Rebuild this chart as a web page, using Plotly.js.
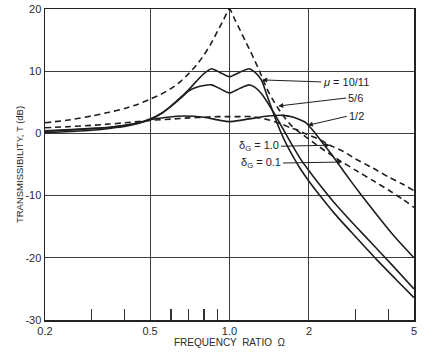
<!DOCTYPE html>
<html>
<head>
<meta charset="utf-8">
<script src="https://cdn.plot.ly/plotly-3.0.1.min.js"></script>
<style>html,body{margin:0;padding:0;background:#fff}#chart{width:435px;height:352px}</style>
</head>
<body>
<div id="chart"></div>
<script>
// Frequency ratio (Omega) and transmissibility (dB)
const omegaD01 = [0.2,0.25,0.3,0.35,0.4,0.45,0.5,0.55,0.6,0.65,0.7,0.75,0.8,0.85,0.9,0.95,1.0,1.05,1.1,1.15,1.2,1.25,1.3,1.35,1.4,1.46,1.53,1.62,1.72,1.8,1.95,2.1,2.3,2.6,3.0,3.5,4.0,4.5,5.0];
const dbD01    = [1.7,2.2,2.8,3.4,4.0,4.7,5.5,6.3,7.2,8.3,9.6,11.0,12.6,14.4,16.4,18.3,20.0,18.2,16.5,14.8,13.2,11.6,10.0,8.3,6.8,5.4,4.0,2.5,1.2,0.5,-0.6,-1.6,-2.8,-4.3,-5.9,-7.6,-9.1,-10.5,-11.9];

const omegaD10 = [0.2,0.25,0.3,0.35,0.4,0.45,0.5,0.6,0.7,0.8,0.9,1.0,1.1,1.2,1.3,1.4,1.5,1.6,1.7,1.8,1.95,2.2,2.4,2.7,3.0,3.5,4.0,4.5,5.0];
const dbD10    = [0.9,1.1,1.3,1.5,1.7,1.9,2.1,2.3,2.5,2.6,2.7,2.7,2.7,2.7,2.5,2.2,1.8,1.4,0.9,0.6,-0.1,-1.0,-1.9,-2.9,-4.1,-5.6,-7.0,-8.1,-9.2];

const omegaMu1011 = [0.2,0.25,0.3,0.35,0.4,0.45,0.5,0.55,0.6,0.65,0.7,0.75,0.8,0.855,0.92,1.0,1.09,1.185,1.25,1.32,1.39,1.48,1.56,1.65,1.75,1.85,2.0,2.2,2.5,3.0,3.61,4.3,5.0];
const dbMu1011    = [0.4,0.6,0.8,1.0,1.3,1.7,2.3,3.2,4.4,5.7,7.0,8.4,9.6,10.4,9.8,9.1,9.8,10.4,9.8,8.6,6.0,2.8,0.3,-1.9,-3.9,-5.6,-7.7,-10.0,-12.9,-16.6,-20.3,-23.6,-26.4];

const omegaMu56 = [0.2,0.25,0.3,0.35,0.4,0.45,0.5,0.55,0.6,0.65,0.7,0.75,0.8,0.855,0.92,1.0,1.09,1.185,1.25,1.32,1.42,1.52,1.63,1.75,1.87,2.0,2.2,2.5,3.0,3.5,4.2,5.0];
const dbMu56    = [0.35,0.55,0.75,0.95,1.25,1.65,2.25,3.15,4.35,5.6,6.8,7.4,7.7,7.8,7.2,6.5,7.2,7.8,7.4,6.4,4.4,2.3,0.0,-2.3,-4.3,-6.0,-8.3,-11.2,-14.9,-17.9,-21.5,-25.0];

const omegaMu12 = [0.2,0.25,0.3,0.35,0.4,0.45,0.5,0.58,0.67,0.8,0.92,1.0,1.1,1.25,1.4,1.6,1.75,1.95,2.05,2.15,2.45,2.75,3.13,3.6,4.2,5.0];
const dbMu12    = [0.1,0.3,0.5,0.8,1.1,1.6,2.2,2.6,2.8,2.6,2.1,1.9,2.1,2.5,2.8,2.9,2.6,1.7,0.7,-0.4,-3.5,-6.5,-9.7,-13.0,-16.5,-20.0];

const xTickVals = [0.2,0.5,1,2,5];
const xTickText = ['0.2','0.5','1.0','2','5'];
const xMinorTicks = [0.3,0.4,0.6,0.7,0.8,0.9,3,4];
const yTickVals = [20,10,0,-10,-20,-30];
const yTickText = ['20','10','0','-10','-20','-30'];

const labelTexts = ['<i>μ</i> = 10/11','5/6','1/2','δ<sub>G</sub> = 1.0','δ<sub>G</sub> = 0.1'];

const ink = '#1e1e1e';
function curve(x, y, dashed) {
  return {
    x: x, y: y, type: 'scatter', mode: 'lines', hoverinfo: 'skip',
    line: {color: ink, width: 1.6, shape: 'spline', smoothing: 0.6, dash: dashed ? '6px,4px' : 'solid'}
  };
}
const traces = [
  curve(omegaD01, dbD01, true),
  curve(omegaD10, dbD10, true),
  curve(omegaMu1011, dbMu1011, false),
  curve(omegaMu56, dbMu56, false),
  curve(omegaMu12, dbMu12, false)
];

function label(i, xv, yv, ax, ay, anchor) {
  return {
    x: Math.log10(xv), y: yv, xref: 'x', yref: 'y', text: labelTexts[i],
    showarrow: true, arrowhead: 2, arrowsize: 1, arrowwidth: 1, arrowcolor: ink,
    ax: ax, ay: ay, xanchor: anchor, yanchor: 'middle', standoff: 0,
    font: {size: 11, color: ink}
  };
}

const axisCommon = {
  showgrid: true, gridcolor: '#3c3c3c', gridwidth: 1,
  showline: true, linecolor: '#222', linewidth: 1.5, mirror: true,
  zeroline: false, ticks: '', tickfont: {size: 11, color: '#2a2a2a'}, fixedrange: true
};

const layout = {
  width: 435, height: 352,
  margin: {l: 45, r: 21, t: 9, b: 32},
  paper_bgcolor: '#fff', plot_bgcolor: '#fff',
  showlegend: false,
  font: {family: 'Liberation Sans, Arial, sans-serif', size: 11, color: '#2a2a2a'},
  xaxis: Object.assign({}, axisCommon, {
    type: 'log', range: [Math.log10(0.2), Math.log10(5)],
    tickmode: 'array', tickvals: xTickVals, ticktext: xTickText,
    minor: {tickmode: 'array', tickvals: xMinorTicks, ticks: 'inside', ticklen: 11, tickwidth: 1.2, tickcolor: '#333', showgrid: false},
    title: {text: 'FREQUENCY  RATIO  Ω', font: {size: 10, color: '#2a2a2a'}, standoff: 2}
  }),
  yaxis: Object.assign({}, axisCommon, {
    range: [-30, 20],
    tickmode: 'array', tickvals: yTickVals, ticktext: yTickText,
    title: {text: 'TRANSMISSIBILITY, T (dB)', font: {size: 9.5, color: '#2a2a2a'}, standoff: 0}
  }),
  annotations: [
    label(0, 1.33, 8.6, 59, 2, 'left'),
    label(1, 1.53, 4.4, 68, -8, 'left'),
    label(2, 1.98, 1.3, 39, -9, 'left'),
    label(3, 2.40, -1.9, -49, 1, 'right'),
    label(4, 2.67, -4.6, -59, 1, 'right')
  ]
};

Plotly.newPlot('chart', traces, layout, {staticPlot: true, displayModeBar: false});
</script>
</body>
</html>
